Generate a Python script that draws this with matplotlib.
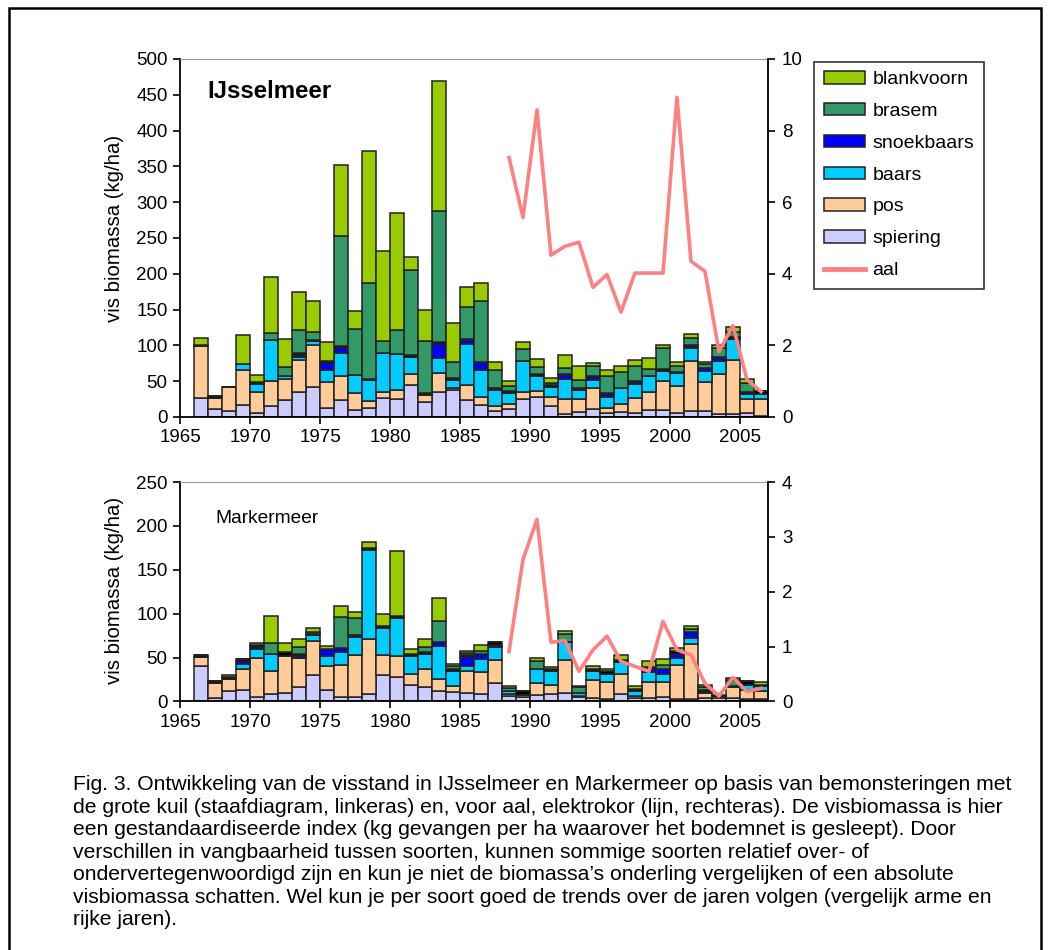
import matplotlib.pyplot as plt
import numpy as np
from matplotlib.patches import Patch, Rectangle
from matplotlib.lines import Line2D

plt.rcParams['font.family'] = ['Liberation Sans', 'DejaVu Sans']

years = list(range(1966, 2007))
aal_years = list(range(1988, 2007))

# IJsselmeer (kg/ha), van onder naar boven gestapeld
ij_spiering = [27, 11, 9, 17, 6, 15, 23, 35, 42, 13, 23, 10, 13, 26, 25, 44, 20.5, 34.5, 37, 24, 17,
               8.4, 11, 25, 28.4, 15, 4, 7.4, 10.7, 5, 7.4, 5, 9.8, 9.3, 6, 8.4, 8.4, 3.7, 4.7, 5, 1.4]
ij_pos = [72, 16, 33, 48, 29, 35, 30, 44, 58.5, 35.5, 34, 23, 9, 9, 12, 15.6, 9.5, 27.5, 4, 21, 11,
          6.6, 6.7, 9.4, 8, 13.4, 20.7, 17.3, 29.3, 8, 10.6, 22, 24.6, 40.5, 37.8, 70.3, 40, 56, 75, 19.7, 23.3]
ij_baars = [0, 0, 0, 8.5, 11.5, 57.5, 4, 5, 5.5, 17, 33, 25, 30, 54, 51, 23.5, 0, 20, 10, 57, 37.6,
            22, 16, 44, 21.4, 14, 28.3, 12.3, 11.7, 15.4, 22, 18.6, 23.3, 15, 17.2, 18, 15.8, 18.6, 29, 7, 7]
ij_snoekbaars = [0, 0, 0, 0, 0, 0, 0, 3, 0, 10, 7, 0, 0, 0, 0, 0, 2, 20, 0, 5, 9.5,
                 2, 0, 0, 0, 0, 5, 2, 4, 3, 0, 3.5, 0, 0, 0, 2.5, 3.5, 4.5, 0, 0, 0]
ij_overig = [2, 2, 0, 0, 2.5, 0, 0, 2, 2, 2.5, 2, 0, 1.5, 0, 0, 3, 1.5, 2, 3, 1.5, 1.5,
             1.5, 3, 0, 2.8, 2.8, 1.6, 1, 1, 1.6, 0, 1.2, 0, 2.3, 2.3, 1.2, 1.3, 1.5, 2.5, 3.4, 5]
ij_brasem = [0, 0, 0, 0, 0, 9.5, 13, 32.5, 11, 0, 154, 65, 134, 17, 33.5, 119, 73, 184, 23, 44.5, 85,
             25, 7, 16, 9.5, 2, 9.4, 11.7, 14, 24.7, 22.4, 21, 9.3, 29.8, 8.4, 9.5, 5, 12.5, 8, 13, 0]
ij_blankvoorn = [9, 0, 0, 40.5, 9, 78, 38.5, 52.5, 43.5, 26, 99, 25.5, 184, 126, 163, 19, 42.5, 181, 54, 29, 25.5,
                 11.5, 6, 10, 11, 7, 17.6, 20, 5, 8, 8.9, 8.6, 16, 3.7, 5.6, 6, 3.3, 3.7, 7, 4.6, 0]
ij_aal = [7.25, 5.57, 8.58, 4.52, 4.77, 4.88, 3.62, 3.98, 2.93, 4.02, 4.02, 4.02, 8.93, 4.35, 4.07,
          1.83, 2.55, 1.04, 0.71]

# Markermeer (kg/ha)
mm_spiering = [40, 3.4, 11.8, 13.3, 5.3, 8.4, 9.5, 16.3, 30.4, 13.3, 5, 5, 8.4, 30.4, 27.4, 19, 16, 11.4, 11, 9.5, 8.4,
               20.9, 5.7, 4.6, 7.2, 8.4, 9.5, 4.6, 3.4, 2.7, 8.4, 3.4, 3.4, 5, 2.7, 2.7, 3.4, 0.8, 3.4, 2.7, 2.7]
mm_pos = [10.5, 17.6, 13.7, 23.6, 44, 26.6, 42.5, 32.7, 39, 26.6, 36, 47.4, 63, 22, 24, 12.5, 20.9, 14, 6.9, 25.5, 25,
          26.6, 2.7, 3, 13.7, 10.6, 38, 2, 20.6, 20, 23.1, 2.3, 19, 17.4, 38.3, 63, 6.1, 3, 12.6, 10.6, 8.7]
mm_baars = [0, 0, 0, 5.7, 10.6, 19, 0, 0, 6, 12, 15, 20.6, 101.6, 31, 43.7, 19.8, 17, 38.3, 17, 5, 15.2,
            14, 3, 0, 16, 15.2, 19.8, 3, 11, 8.7, 13, 5.7, 11, 9, 8.4, 6.5, 1, 2.7, 0, 5.7, 5.7]
mm_snoekbaars = [0, 0, 0, 3, 2.7, 0, 0, 2.7, 0, 8, 4.8, 3, 0, 0, 0, 0, 0, 3.5, 0, 10.5, 5.4,
                 3, 0, 0, 0, 0, 0, 0, 0, 0, 0, 0, 4, 5.4, 4.6, 6.8, 0, 0, 0, 0, 0]
mm_overig = [2.5, 2, 2.2, 2.7, 1.9, 0, 3.9, 2.3, 2, 0, 0, 0, 1.8, 3, 2.7, 3, 2.2, 0, 2.6, 2.5, 0,
             3.8, 0, 4.6, 0, 2.7, 0, 0, 2.2, 3.5, 3, 3, 2.4, 0, 3, 0, 2.7, 0, 2, 3.8, 1.9]
mm_brasem = [0, 0, 0, 0, 0, 12.5, 0, 8.4, 2.2, 0, 36, 19, 0, 0, 0, 0, 6.5, 24.7, 2.4, 2, 3.8,
             0, 3.8, 0, 9.5, 0, 9.5, 6.5, 0, 0, 0, 0, 0, 5, 0, 3.5, 3, 0, 6, 0, 0]
mm_blankvoorn = [0, 0, 3, 0, 2.3, 30.5, 10.6, 9, 3.8, 3.8, 12.5, 6.5, 6.5, 13.4, 73.3, 5.7, 8.7, 25.5, 3, 2.8, 6,
                 0, 2.7, 0, 3, 2.1, 3, 2, 2.8, 2.2, 5.7, 3.5, 6.7, 6.5, 3.8, 3.8, 2.7, 1, 3, 0, 3]
mm_aal = [0.91, 2.59, 3.32, 1.08, 1.11, 0.55, 0.94, 1.19, 0.73, 0.64, 0.55, 1.46, 0.94, 0.85, 0.33,
          0.10, 0.44, 0.18, 0.24]

soorten = ['spiering', 'pos', 'baars', 'snoekbaars', 'overig', 'brasem', 'blankvoorn']
kleuren = {'spiering': '#CCCCFF', 'pos': '#FFCC99', 'baars': '#00CCFF', 'snoekbaars': '#0000FF',
           'overig': '#000000', 'brasem': '#339966', 'blankvoorn': '#99CC00'}
aal_kleur = '#FF8080'

fig = plt.figure(figsize=(10.51, 9.5), dpi=100)


def paneel(rect, reeksen, aal, ymax, ystep, y2max, y2step, titel, titelkw):
    ax = fig.add_axes(rect)
    x = np.array(years) + 0.5
    bodem = np.zeros(len(years))
    for naam, vals in zip(soorten, reeksen):
        vals = np.array(vals, dtype=float)
        ax.bar(x, vals, width=1.0, bottom=bodem, color=kleuren[naam],
               edgecolor='#222222', linewidth=1.1, zorder=2)
        bodem += vals
    ax.set_xlim(1965, 2007)
    ax.set_ylim(0, ymax)
    ax.set_yticks(np.arange(0, ymax + 1, ystep))
    ax.set_xticks(range(1965, 2006, 5))
    ax.tick_params(axis='y', direction='out', length=5, width=1.2, labelsize=13.5, pad=4)
    ax.tick_params(axis='x', direction='out', length=5, width=1.2, labelsize=13.5, pad=4)
    ax.spines['top'].set_color('#999999')
    ax.spines['right'].set_visible(False)
    for s in ['left', 'bottom']:
        ax.spines[s].set_linewidth(1.3)
    ax.text(*titelkw['pos'], titel, transform=ax.transAxes, fontsize=titelkw['size'],
            fontweight=titelkw['weight'], va='center', ha='left')

    ax2 = ax.twinx()
    ax2.plot(np.array(aal_years) + 0.5, aal, color=aal_kleur, linewidth=2.6, zorder=3)
    ax2.set_ylim(0, y2max)
    ax2.set_yticks(np.arange(0, y2max + 0.01, y2step))
    ax2.tick_params(axis='y', direction='out', length=5, width=1.2, labelsize=13.5, pad=5)
    ax2.spines['right'].set_linewidth(1.3)
    ax2.spines['top'].set_visible(False)
    ax2.spines['left'].set_visible(False)
    ax2.spines['bottom'].set_visible(False)
    return ax, ax2


ij = [ij_spiering, ij_pos, ij_baars, ij_snoekbaars, ij_overig, ij_brasem, ij_blankvoorn]
mm = [mm_spiering, mm_pos, mm_baars, mm_snoekbaars, mm_overig, mm_brasem, mm_blankvoorn]

paneel([0.1713, 0.5611, 0.5594, 0.3768], ij, ij_aal, 500, 50, 10, 2, 'IJsselmeer',
       {'pos': (0.046, 0.908), 'size': 17.3, 'weight': 'bold'})
paneel([0.1713, 0.2616, 0.5594, 0.2310], mm, mm_aal, 250, 50, 4, 1, 'Markermeer',
       {'pos': (0.06, 0.836), 'size': 13.8, 'weight': 'normal'})

fig.text(0.1094, 0.76, 'vis biomassa (kg/ha)', rotation=90, fontsize=14.7, ha='center', va='center')
fig.text(0.1094, 0.379, 'vis biomassa (kg/ha)', rotation=90, fontsize=14.7, ha='center', va='center')

# legenda
handles = [Patch(facecolor=kleuren[n], edgecolor='#222222', linewidth=1.1, label=n)
           for n in ['blankvoorn', 'brasem', 'snoekbaars', 'baars', 'pos', 'spiering']]
handles.append(Line2D([0], [0], color=aal_kleur, linewidth=3.5, label='aal'))
leg = fig.legend(handles=handles, loc='upper left', bbox_to_anchor=(814 / 1051, 1 - 61.5 / 950),
                 fontsize=14, frameon=True, fancybox=False, edgecolor='black',
                 handlelength=2.1, handleheight=0.6, handletextpad=0.4, labelspacing=0.76,
                 borderpad=0.5, borderaxespad=0)
leg.get_frame().set_linewidth(1.2)

caption = ("Fig. 3. Ontwikkeling van de visstand in IJsselmeer en Markermeer op basis van bemonsteringen met\n"
           "de grote kuil (staafdiagram, linkeras) en, voor aal, elektrokor (lijn, rechteras). De visbiomassa is hier\n"
           "een gestandaardiseerde index (kg gevangen per ha waarover het bodemnet is gesleept). Door\n"
           "verschillen in vangbaarheid tussen soorten, kunnen sommige soorten relatief over- of\n"
           "ondervertegenwoordigd zijn en kun je niet de biomassa’s onderling vergelijken of een absolute\n"
           "visbiomassa schatten. Wel kun je per soort goed de trends over de jaren volgen (vergelijk arme en\n"
           "rijke jaren).")
fig.text(73 / 1051, 1 - 775 / 950, caption, fontsize=15.2, ha='left', va='top', linespacing=1.235)

# kader rond de figuur
fig.patches.append(Rectangle((9 / 1051, -0.02), 1032 / 1051, 1.02 - 8 / 950, transform=fig.transFigure,
                             fill=False, edgecolor='black', linewidth=1.8))

fig.savefig('out.png', dpi=100)
